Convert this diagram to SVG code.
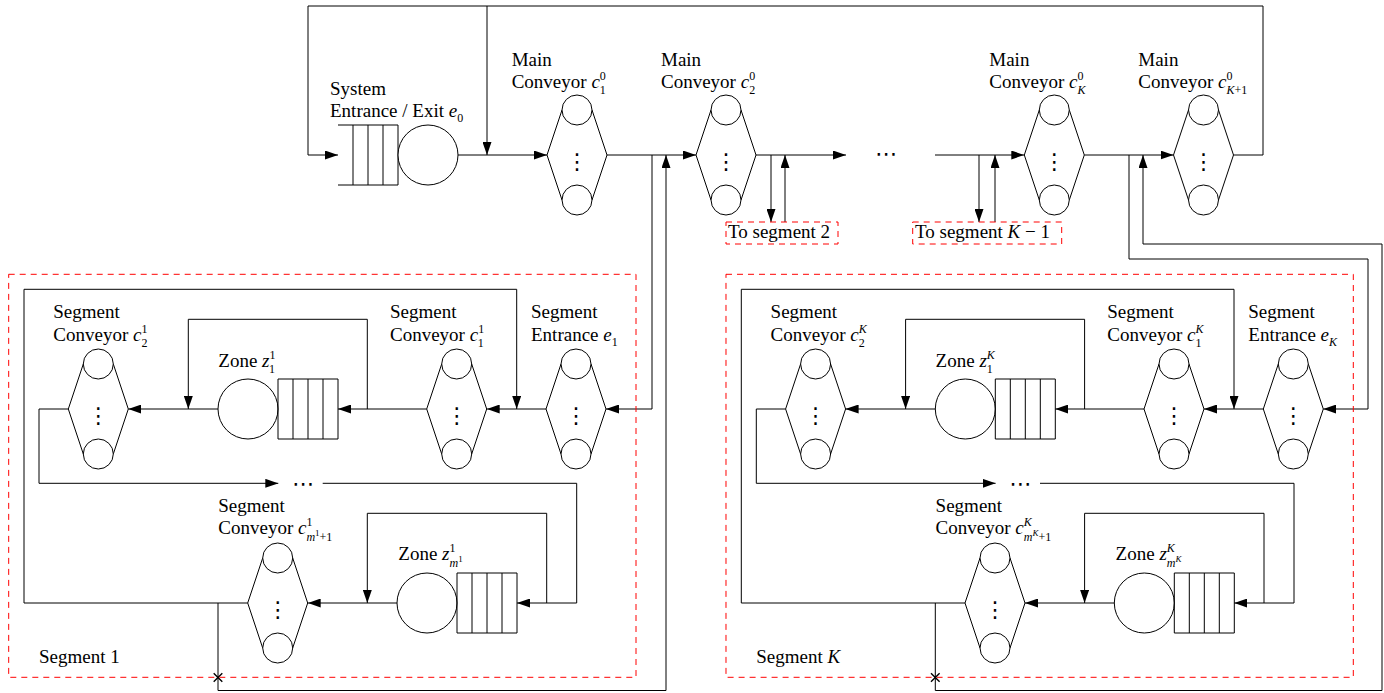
<svg xmlns="http://www.w3.org/2000/svg" width="1384" height="693" viewBox="0 0 1384 693">
<style>
.t{font-family:"Liberation Serif","DejaVu Serif",serif;font-size:19px;fill:#000}
.i{font-style:italic}
.s{font-size:12px}
.ss{font-size:9px}
.vd{font-family:"DejaVu Sans",sans-serif;font-size:22px;text-anchor:middle;fill:#000}
.hd{font-family:"DejaVu Sans",sans-serif;font-size:22px;text-anchor:middle;fill:#000}
.ln{fill:none;stroke:#000;stroke-width:1}
.ar{fill:none;stroke:#000;stroke-width:1;marker-end:url(#arr)}
.sh{fill:#fff;stroke:#000;stroke-width:1}
.rd{fill:none;stroke:#f00;stroke-width:1;stroke-dasharray:6 5}
</style>
<defs>
<marker id="arr" viewBox="0 0 13 9" refX="13" refY="4.5" markerWidth="13" markerHeight="9" markerUnits="userSpaceOnUse" orient="auto"><path d="M0,0 L13,4.5 L0,9 z" fill="#000"/></marker>
</defs>
<rect width="1384" height="693" fill="#fff"/>

<g id="connectors">
<path class="ar" d="M1233.5,155 H1263 V6 H308 V155 H338"/>
<path class="ar" d="M487,6 V155"/>
<path class="ar" d="M458,155 H547"/>
<path class="ar" d="M607,155 H696"/>
<path class="ar" d="M652,155 V409 H606"/>
<path class="ar" d="M218,603 V690.5 H666 V155"/>
<path class="ar" d="M756,155 H846"/>
<path class="ar" d="M771,155 V222"/>
<path class="ar" d="M785,222 V155"/>
<path class="ar" d="M935,155 H1024.3"/>
<path class="ar" d="M979,155 V222"/>
<path class="ar" d="M995,222 V155"/>
<path class="ar" d="M1084.3,155 H1173.5"/>
<path class="ar" d="M1129,155 V259 H1368 V409 H1323.3"/>
<path class="ar" d="M935.3,603 V690.5 H1382 V244 H1143 V155"/>
<g id="seg1-connectors">
<path class="ar" d="M546,409 H486.7"/>
<path class="ar" d="M247.7,603 H24 V289.3 H516.7 V409"/>
<path class="ar" d="M426.7,409 H338"/>
<path class="ar" d="M367.3,409 V319.3 H188.3 V409"/>
<path class="ar" d="M218,409 H128.3"/>
<path class="ar" d="M68.3,409 H39 V483.3 H278.3"/>
<path class="ar" d="M322.7,483.3 H576.7 V603 H517"/>
<path class="ar" d="M546.7,603 V513.3 H367.3 V603"/>
<path class="ar" d="M397,603 H307.7"/>
<path class="ln" style="stroke-width:1.4" d="M213.7,673.2 L222.3,681.8 M222.3,673.2 L213.7,681.8"/>
</g>
<g id="segK-connectors" transform="translate(717.3,0)">
<path class="ar" d="M546,409 H486.7"/>
<path class="ar" d="M247.7,603 H24 V289.3 H516.7 V409"/>
<path class="ar" d="M426.7,409 H338"/>
<path class="ar" d="M367.3,409 V319.3 H188.3 V409"/>
<path class="ar" d="M218,409 H128.3"/>
<path class="ar" d="M68.3,409 H39 V483.3 H278.3"/>
<path class="ar" d="M322.7,483.3 H576.7 V603 H517"/>
<path class="ar" d="M546.7,603 V513.3 H367.3 V603"/>
<path class="ar" d="M397,603 H307.7"/>
<path class="ln" style="stroke-width:1.4" d="M213.7,673.2 L222.3,681.8 M222.3,673.2 L213.7,681.8"/>
</g>
</g>

<g id="e0">
<path class="ln" d="M338,125 H398 M338,185 H398 M353,125 V185 M368,125 V185 M383,125 V185 M398,125 V185"/>
<circle class="sh" cx="428" cy="155" r="30"/>
<text class="t" x="330" y="95">System</text>
<text class="t" x="330" y="117">Entrance / Exit <tspan class="i">e</tspan><tspan class="s" dy="5">0</tspan></text>
</g>

<g id="main-c1">
<g transform="translate(547,155)"><path class="ln" d="M0,0 L15,-45 M0,0 L15,45 M60,0 L45,-45 M60,0 L45,45"/><circle class="sh" cx="30" cy="-45" r="15"/><circle class="sh" cx="30" cy="45" r="15"/><text class="vd" x="30" y="14">⋮</text></g>
<text class="t" x="511.7" y="66">Main</text>
<text class="t" x="511.7" y="88.3">Conveyor <tspan class="i">c</tspan><tspan class="s" dy="-8">0</tspan><tspan class="s" dx="-6" dy="14">1</tspan></text>
</g>
<g id="main-c2">
<g transform="translate(696,155)"><path class="ln" d="M0,0 L15,-45 M0,0 L15,45 M60,0 L45,-45 M60,0 L45,45"/><circle class="sh" cx="30" cy="-45" r="15"/><circle class="sh" cx="30" cy="45" r="15"/><text class="vd" x="30" y="14">⋮</text></g>
<text class="t" x="661" y="66">Main</text>
<text class="t" x="661" y="88.3">Conveyor <tspan class="i">c</tspan><tspan class="s" dy="-8">0</tspan><tspan class="s" dx="-6" dy="14">2</tspan></text>
</g>
<g id="main-dots"><text class="hd" x="886" y="161">⋯</text></g>
<g id="main-cK">
<g transform="translate(1024.3,155)"><path class="ln" d="M0,0 L15,-45 M0,0 L15,45 M60,0 L45,-45 M60,0 L45,45"/><circle class="sh" cx="30" cy="-45" r="15"/><circle class="sh" cx="30" cy="45" r="15"/><text class="vd" x="30" y="14">⋮</text></g>
<text class="t" x="989.3" y="66">Main</text>
<text class="t" x="989.3" y="88.3">Conveyor <tspan class="i">c</tspan><tspan class="s" dy="-8">0</tspan><tspan class="s i" dx="-6" dy="14">K</tspan></text>
</g>
<g id="main-cK1">
<g transform="translate(1173.5,155)"><path class="ln" d="M0,0 L15,-45 M0,0 L15,45 M60,0 L45,-45 M60,0 L45,45"/><circle class="sh" cx="30" cy="-45" r="15"/><circle class="sh" cx="30" cy="45" r="15"/><text class="vd" x="30" y="14">⋮</text></g>
<text class="t" x="1138.3" y="66">Main</text>
<text class="t" x="1138.3" y="88.3">Conveyor <tspan class="i">c</tspan><tspan class="s" dy="-8">0</tspan><tspan class="s i" dx="-6" dy="14">K</tspan><tspan class="s">+1</tspan></text>
</g>
<g id="to-seg2">
<rect class="rd" x="726" y="222" width="112" height="22"/>
<text class="t" x="728" y="238">To segment 2</text>
</g>
<g id="to-segK-1">
<rect class="rd" x="912.7" y="222" width="149" height="22"/>
<text class="t" x="915" y="238">To segment <tspan class="i">K</tspan> − 1</text>
</g>

<g id="segment-1">
<rect class="rd" x="8.7" y="274.3" width="627.3" height="403"/>
<text class="t" x="39" y="663.3">Segment 1</text>
<g id="s1-e1">
<g transform="translate(546,409)"><path class="ln" d="M0,0 L15,-45 M0,0 L15,45 M60,0 L45,-45 M60,0 L45,45"/><circle class="sh" cx="30" cy="-45" r="15"/><circle class="sh" cx="30" cy="45" r="15"/><text class="vd" x="30" y="14">⋮</text></g>
<text class="t" x="531" y="318.3">Segment</text>
<text class="t" x="531" y="341">Entrance <tspan class="i">e</tspan><tspan class="s" dy="5">1</tspan></text>
</g>
<g id="s1-c1">
<g transform="translate(426.7,409)"><path class="ln" d="M0,0 L15,-45 M0,0 L15,45 M60,0 L45,-45 M60,0 L45,45"/><circle class="sh" cx="30" cy="-45" r="15"/><circle class="sh" cx="30" cy="45" r="15"/><text class="vd" x="30" y="14">⋮</text></g>
<text class="t" x="390" y="318.3">Segment</text>
<text class="t" x="390" y="341">Conveyor <tspan class="i">c</tspan><tspan class="s" dy="-8">1</tspan><tspan class="s" dx="-6" dy="14">1</tspan></text>
</g>
<g id="s1-z1">
<circle class="sh" cx="248" cy="409" r="30"/>
<path class="ln" d="M278,379 H338 V439 H278 Z M293,379 V439 M308,379 V439 M323,379 V439"/>
<text class="t" x="218.3" y="366.7">Zone <tspan class="i">z</tspan><tspan class="s" dy="-8">1</tspan><tspan class="s" dx="-6" dy="14">1</tspan></text>
</g>
<g id="s1-c2">
<g transform="translate(68.3,409)"><path class="ln" d="M0,0 L15,-45 M0,0 L15,45 M60,0 L45,-45 M60,0 L45,45"/><circle class="sh" cx="30" cy="-45" r="15"/><circle class="sh" cx="30" cy="45" r="15"/><text class="vd" x="30" y="14">⋮</text></g>
<text class="t" x="53.3" y="318.3">Segment</text>
<text class="t" x="53.3" y="341">Conveyor <tspan class="i">c</tspan><tspan class="s" dy="-8">1</tspan><tspan class="s" dx="-6" dy="14">2</tspan></text>
</g>
<g id="s1-dots"><text class="hd" x="303" y="491">⋯</text></g>
<g id="s1-zm">
<circle class="sh" cx="427" cy="603" r="30"/>
<path class="ln" d="M457,573 H517 V633 H457 Z M472,573 V633 M487,573 V633 M502,573 V633"/>
<text class="t" x="398.3" y="560">Zone <tspan class="i">z</tspan><tspan class="s" dy="-8">1</tspan><tspan class="s i" dx="-6" dy="15">m</tspan><tspan class="ss" dy="-5">1</tspan></text>
</g>
<g id="s1-cm1">
<g transform="translate(247.7,603)"><path class="ln" d="M0,0 L15,-45 M0,0 L15,45 M60,0 L45,-45 M60,0 L45,45"/><circle class="sh" cx="30" cy="-45" r="15"/><circle class="sh" cx="30" cy="45" r="15"/><text class="vd" x="30" y="14">⋮</text></g>
<text class="t" x="218.3" y="511.7">Segment</text>
<text class="t" x="218.3" y="534">Conveyor <tspan class="i">c</tspan><tspan class="s" dy="-8">1</tspan><tspan class="s i" dx="-6" dy="15">m</tspan><tspan class="ss" dy="-5">1</tspan><tspan class="s" dy="5">+1</tspan></text>
</g>
</g>

<g id="segment-K" transform="translate(717.3,0)">
<rect class="rd" x="8.7" y="274.3" width="627.3" height="403"/>
<text class="t" x="39" y="663.3">Segment <tspan class="i">K</tspan></text>
<g id="sK-eK">
<g transform="translate(546,409)"><path class="ln" d="M0,0 L15,-45 M0,0 L15,45 M60,0 L45,-45 M60,0 L45,45"/><circle class="sh" cx="30" cy="-45" r="15"/><circle class="sh" cx="30" cy="45" r="15"/><text class="vd" x="30" y="14">⋮</text></g>
<text class="t" x="531" y="318.3">Segment</text>
<text class="t" x="531" y="341">Entrance <tspan class="i">e</tspan><tspan class="s i" dy="5">K</tspan></text>
</g>
<g id="sK-c1">
<g transform="translate(426.7,409)"><path class="ln" d="M0,0 L15,-45 M0,0 L15,45 M60,0 L45,-45 M60,0 L45,45"/><circle class="sh" cx="30" cy="-45" r="15"/><circle class="sh" cx="30" cy="45" r="15"/><text class="vd" x="30" y="14">⋮</text></g>
<text class="t" x="390" y="318.3">Segment</text>
<text class="t" x="390" y="341">Conveyor <tspan class="i">c</tspan><tspan class="s i" dy="-8">K</tspan><tspan class="s" dx="-8" dy="14">1</tspan></text>
</g>
<g id="sK-z1">
<circle class="sh" cx="248" cy="409" r="30"/>
<path class="ln" d="M278,379 H338 V439 H278 Z M293,379 V439 M308,379 V439 M323,379 V439"/>
<text class="t" x="218.3" y="366.7">Zone <tspan class="i">z</tspan><tspan class="s i" dy="-8">K</tspan><tspan class="s" dx="-8" dy="14">1</tspan></text>
</g>
<g id="sK-c2">
<g transform="translate(68.3,409)"><path class="ln" d="M0,0 L15,-45 M0,0 L15,45 M60,0 L45,-45 M60,0 L45,45"/><circle class="sh" cx="30" cy="-45" r="15"/><circle class="sh" cx="30" cy="45" r="15"/><text class="vd" x="30" y="14">⋮</text></g>
<text class="t" x="53.3" y="318.3">Segment</text>
<text class="t" x="53.3" y="341">Conveyor <tspan class="i">c</tspan><tspan class="s i" dy="-8">K</tspan><tspan class="s" dx="-8" dy="14">2</tspan></text>
</g>
<g id="sK-dots"><text class="hd" x="303" y="491">⋯</text></g>
<g id="sK-zm">
<circle class="sh" cx="427" cy="603" r="30"/>
<path class="ln" d="M457,573 H517 V633 H457 Z M472,573 V633 M487,573 V633 M502,573 V633"/>
<text class="t" x="398.3" y="560">Zone <tspan class="i">z</tspan><tspan class="s i" dy="-8">K</tspan><tspan class="s i" dx="-8" dy="15">m</tspan><tspan class="ss i" dy="-5">K</tspan></text>
</g>
<g id="sK-cm1">
<g transform="translate(247.7,603)"><path class="ln" d="M0,0 L15,-45 M0,0 L15,45 M60,0 L45,-45 M60,0 L45,45"/><circle class="sh" cx="30" cy="-45" r="15"/><circle class="sh" cx="30" cy="45" r="15"/><text class="vd" x="30" y="14">⋮</text></g>
<text class="t" x="218.3" y="511.7">Segment</text>
<text class="t" x="218.3" y="534">Conveyor <tspan class="i">c</tspan><tspan class="s i" dy="-8">K</tspan><tspan class="s i" dx="-8" dy="15">m</tspan><tspan class="ss i" dy="-5">K</tspan><tspan class="s" dy="5">+1</tspan></text>
</g>
</g>
</svg>
